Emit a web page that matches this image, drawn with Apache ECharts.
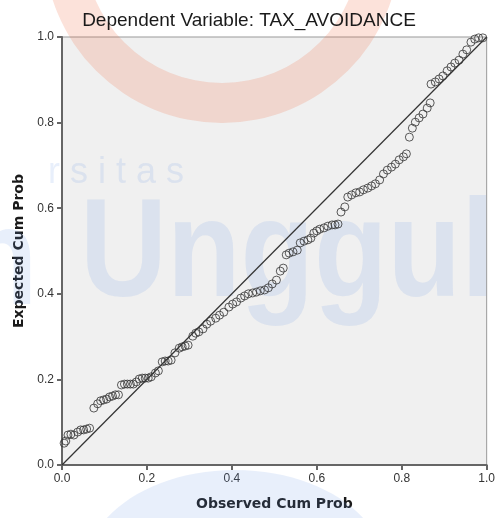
<!DOCTYPE html>
<html>
<head>
<meta charset="utf-8">
<script src="https://cdn.jsdelivr.net/npm/echarts@6/dist/echarts.min.js"></script>
<style>
  html, body { margin: 0; padding: 0; background: #fff; }
  #chart { width: 498px; height: 518px; }
</style>
</head>
<body>
<div id="chart"></div>
<script>
// P-P plot of regression standardized residual
var titleText = 'Dependent Variable: TAX_AVOIDANCE';
var xName = 'Observed Cum Prob';
var yName = 'Expected Cum Prob';

var observedCumProb = [
  0.005, 0.009, 0.014, 0.021, 0.028, 0.037, 0.044, 0.051, 0.058, 0.065,
  0.075, 0.084, 0.091, 0.098, 0.105, 0.112, 0.119, 0.126, 0.133, 0.140,
  0.147, 0.154, 0.161, 0.168, 0.175, 0.182, 0.189, 0.196, 0.203, 0.210,
  0.220, 0.227, 0.236, 0.243, 0.250, 0.257, 0.266, 0.276, 0.283, 0.290,
  0.297, 0.308, 0.315, 0.322, 0.332, 0.341, 0.350, 0.362, 0.371, 0.381,
  0.393, 0.402, 0.411, 0.421, 0.430, 0.439, 0.449, 0.458, 0.467, 0.477,
  0.486, 0.495, 0.505, 0.514, 0.521, 0.528, 0.535, 0.544, 0.554, 0.561,
  0.570, 0.579, 0.586, 0.593, 0.600, 0.607, 0.617, 0.626, 0.636, 0.643,
  0.650, 0.657, 0.666, 0.673, 0.682, 0.692, 0.701, 0.710, 0.720, 0.729,
  0.738, 0.748, 0.757, 0.766, 0.776, 0.785, 0.794, 0.804, 0.811, 0.818,
  0.825, 0.832, 0.841, 0.850, 0.860, 0.867, 0.869, 0.879, 0.888, 0.897,
  0.907, 0.916, 0.925, 0.935, 0.944, 0.953, 0.963, 0.972, 0.981, 0.991
];
var expectedCumProb = [
  0.051, 0.056, 0.070, 0.072, 0.070, 0.077, 0.082, 0.082, 0.084, 0.086,
  0.133, 0.143, 0.150, 0.152, 0.154, 0.159, 0.161, 0.164, 0.164, 0.187,
  0.189, 0.189, 0.189, 0.189, 0.194, 0.201, 0.203, 0.203, 0.203, 0.206,
  0.215, 0.220, 0.241, 0.243, 0.243, 0.245, 0.262, 0.273, 0.276, 0.278,
  0.280, 0.301, 0.308, 0.311, 0.318, 0.329, 0.336, 0.343, 0.350, 0.357,
  0.369, 0.376, 0.381, 0.390, 0.395, 0.400, 0.402, 0.404, 0.407, 0.409,
  0.414, 0.423, 0.432, 0.453, 0.460, 0.491, 0.495, 0.498, 0.502, 0.519,
  0.523, 0.526, 0.530, 0.542, 0.547, 0.551, 0.554, 0.558, 0.561, 0.561,
  0.563, 0.591, 0.603, 0.626, 0.631, 0.636, 0.638, 0.643, 0.647, 0.652,
  0.657, 0.666, 0.680, 0.689, 0.696, 0.703, 0.713, 0.720, 0.727, 0.766,
  0.787, 0.801, 0.811, 0.820, 0.834, 0.846, 0.890, 0.895, 0.902, 0.909,
  0.921, 0.930, 0.939, 0.946, 0.960, 0.970, 0.988, 0.995, 0.998, 0.998
];
var diagonal = [[0, 0], [1, 1]];

var points = observedCumProb.map(function (x, i) { return [x, expectedCumProb[i]]; });

var chart = echarts.init(document.getElementById('chart'), null, { renderer: 'canvas' });

var axisCommon = {
  type: 'value',
  min: 0,
  max: 1,
  interval: 0.2,
  nameLocation: 'middle',
  nameTextStyle: { fontFamily: 'DejaVu Sans', fontSize: 14, fontWeight: 'bold', color: '#1a1a1a' },
  axisLine: { show: true, lineStyle: { color: '#666', width: 2 } },
  axisTick: { show: true, length: 5, lineStyle: { color: '#666', width: 2 } },
  axisLabel: {
    fontFamily: 'Liberation Sans', fontSize: 12, color: '#333',
    formatter: function (v) { return v.toFixed(1); }
  },
  splitLine: { show: false }
};

var wmBlue = 'rgba(100,150,230,0.15)';

var option = {
  backgroundColor: '#fff',
  animation: false,
  title: {
    text: titleText,
    left: 'center',
    top: 6,
    textStyle: { fontFamily: 'Liberation Sans', fontSize: 19, fontWeight: 'normal', color: '#1a1a1a' }
  },
  grid: {
    left: 62, right: 8, top: 37, bottom: 53,
    show: true,
    backgroundColor: '#f0f0f0',
    borderColor: '#999',
    borderWidth: 1
  },
  // faint watermark behind the plot
  graphic: [
    { type: 'ring', z: 1, silent: true, shape: { cx: 222, cy: -55, r: 178, r0: 138 },
      style: { fill: 'rgba(240,110,70,0.2)' } },
    { type: 'text', z: 1, silent: true, x: 80, y: 187, scaleX: 0.86,
      style: { text: 'Unggul', fontFamily: 'Liberation Sans', fontSize: 140, fontWeight: 'bold', fill: wmBlue } },
    { type: 'text', z: 1, silent: true, x: -36, y: 195, scaleX: 0.86,
      style: { text: 'n', fontFamily: 'Liberation Sans', fontSize: 140, fontWeight: 'bold', fill: wmBlue } },
    { type: 'text', z: 1, silent: true, x: 48, y: 155,
      style: { text: 'r s i t a s', fontFamily: 'Liberation Sans', fontSize: 36, fill: wmBlue } },
    { type: 'ellipse', z: 1, silent: true, shape: { cx: 235, cy: 570, rx: 150, ry: 100 },
      style: { fill: wmBlue } }
  ],
  xAxis: Object.assign({}, axisCommon, { name: xName, nameGap: 32 }),
  yAxis: Object.assign({}, axisCommon, { name: yName, nameGap: 36 }),
  series: [
    {
      type: 'line',
      data: diagonal,
      symbol: 'none',
      z: 3,
      lineStyle: { color: '#333', width: 1.2 }
    },
    {
      type: 'scatter',
      data: points,
      symbol: 'circle',
      symbolSize: 8,
      z: 4,
      itemStyle: { color: 'rgba(0,0,0,0)', borderColor: '#333', borderWidth: 1 }
    }
  ]
};

chart.setOption(option);
</script>
</body>
</html>
